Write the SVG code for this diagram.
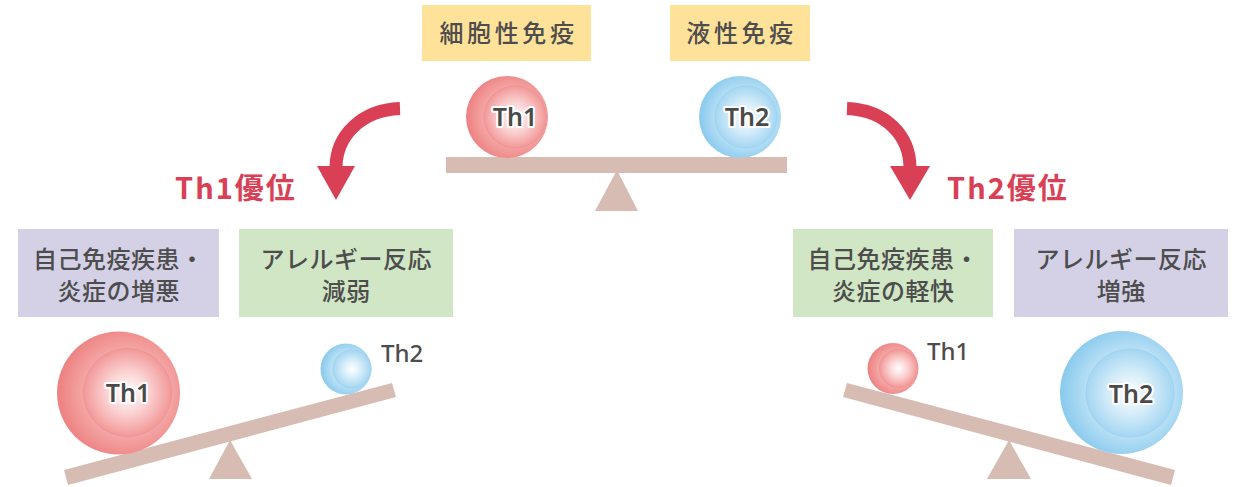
<svg xmlns="http://www.w3.org/2000/svg" width="1245" height="487" viewBox="0 0 1245 487">
<style>
.box{font-family:"Noto Sans CJK JP","Noto Sans",sans-serif;font-size:24px;font-weight:500;fill:#4d4d4d;text-anchor:middle}
.lbl{font-family:"Noto Sans","Noto Sans CJK JP",sans-serif;font-size:24px;font-weight:500;fill:#4d4d4d}
.in{font-family:"Noto Sans","Noto Sans CJK JP",sans-serif;font-size:25px;font-weight:600;fill:#4a4a4a;stroke:#fff;stroke-width:4;stroke-linejoin:round;paint-order:stroke;text-anchor:middle}
.dom{font-family:"Noto Sans CJK JP","Noto Sans",sans-serif;font-size:29px;font-weight:700;fill:#d93f55;letter-spacing:2px}
.beam{fill:#d6bcb2}
.arrow{fill:none;stroke:#d93f55;stroke-width:13}
.head{fill:#d93f55}
</style>
<defs>
<radialGradient id="rOut" cx="0.57" cy="0.5" r="0.55">
<stop offset="0" stop-color="#fad3d3"/><stop offset="0.6" stop-color="#f5aaaa"/><stop offset="1" stop-color="#ee8383"/>
</radialGradient>
<radialGradient id="rIn" cx="0.5" cy="0.5" r="0.5">
<stop offset="0" stop-color="#ffffff"/><stop offset="0.5" stop-color="#fbd0d0"/><stop offset="1" stop-color="#f29898"/>
</radialGradient>
<radialGradient id="bOut" cx="0.57" cy="0.5" r="0.55">
<stop offset="0" stop-color="#d6eefa"/><stop offset="0.6" stop-color="#bde2f6"/><stop offset="1" stop-color="#8ccbee"/>
</radialGradient>
<radialGradient id="bIn" cx="0.5" cy="0.5" r="0.5">
<stop offset="0" stop-color="#ffffff"/><stop offset="0.5" stop-color="#d4ecf9"/><stop offset="1" stop-color="#a4d6f2"/>
</radialGradient>
</defs>

<g id="connectors">
<path class="arrow" d="M400,108.5 C362,110 336,135 336,168"/>
<polygon class="head" points="317,166 355,166 336,200"/>
<path class="arrow" d="M847,108.5 C885,110 910,135 910,168"/>
<polygon class="head" points="890,166 930,166 910,200"/>
</g>

<g id="label-cell">
<rect x="422" y="5" width="169" height="56" fill="#fee29a"/>
<text class="box" x="508.5" y="42" letter-spacing="3.6">細胞性免疫</text>
</g>
<g id="label-humoral">
<rect x="670" y="5" width="140" height="56" fill="#fee29a"/>
<text class="box" x="741.5" y="42" letter-spacing="3.6">液性免疫</text>
</g>

<g id="seesaw-top">
<polygon class="beam" points="617,170 638,211 595,211"/>
<rect class="beam" x="446" y="157" width="341" height="16"/>
<g id="th1-top">
<circle cx="507" cy="117" r="41" fill="url(#rOut)"/>
<circle cx="515" cy="117" r="31" fill="url(#rIn)" stroke="#f09494" stroke-width="1"/>
<text class="in" x="515" y="126">Th1</text>
</g>
<g id="th2-top">
<circle cx="740" cy="117" r="41" fill="url(#bOut)"/>
<circle cx="746" cy="117" r="31" fill="url(#bIn)" stroke="#9fd3f0" stroke-width="1"/>
<text class="in" x="747" y="126">Th2</text>
</g>
</g>

<g id="th1-dominant">
<text class="dom" x="175" y="199">Th1優位</text>
</g>
<g id="th2-dominant">
<text class="dom" x="947" y="199">Th2優位</text>
</g>

<g id="left-box-auto">
<rect x="18" y="229" width="201" height="88" fill="#d4d1e7"/>
<text class="box" x="118.7" y="268" letter-spacing="0.5">自己免疫疾患・</text>
<text class="box" x="118.7" y="300" letter-spacing="0.5">炎症の増悪</text>
</g>
<g id="left-box-allergy">
<rect x="239" y="229" width="214" height="88" fill="#d0e6c4"/>
<text class="box" x="346.2" y="268" letter-spacing="0.5">アレルギー反応</text>
<text class="box" x="346.2" y="300" letter-spacing="0.5">減弱</text>
</g>

<g id="seesaw-left">
<polygon class="beam" points="230,440 252,479 209,479"/>
<polygon class="beam" points="64,470 392,383 396,397 68,485"/>
<g id="th1-left">
<circle cx="118.5" cy="393" r="61.5" fill="url(#rOut)"/>
<circle cx="127.5" cy="392.5" r="44" fill="url(#rIn)" stroke="#f09494" stroke-width="1"/>
<text class="in" x="128" y="402">Th1</text>
</g>
<g id="th2-left">
<circle cx="346" cy="369" r="25.5" fill="url(#bOut)"/>
<circle cx="352" cy="369" r="19" fill="url(#bIn)" stroke="#9fd3f0" stroke-width="1"/>
<text class="lbl" x="381" y="362">Th2</text>
</g>
</g>

<g id="right-box-auto">
<rect x="793" y="229" width="200" height="88" fill="#d0e6c4"/>
<text class="box" x="893.2" y="268" letter-spacing="0.5">自己免疫疾患・</text>
<text class="box" x="893.2" y="300" letter-spacing="0.5">炎症の軽快</text>
</g>
<g id="right-box-allergy">
<rect x="1014" y="229" width="214" height="88" fill="#d4d1e7"/>
<text class="box" x="1121.2" y="268" letter-spacing="0.5">アレルギー反応</text>
<text class="box" x="1121.2" y="300" letter-spacing="0.5">増強</text>
</g>

<g id="seesaw-right">
<polygon class="beam" points="1009,440 1031,479 987,479"/>
<polygon class="beam" points="847,383 1175,470 1171,485 843,397"/>
<g id="th1-right">
<circle cx="893" cy="368.5" r="25.5" fill="url(#rOut)"/>
<circle cx="898.5" cy="368.5" r="19" fill="url(#rIn)" stroke="#f09494" stroke-width="1"/>
<text class="lbl" x="927" y="360">Th1</text>
</g>
<g id="th2-right">
<circle cx="1121.5" cy="392.5" r="61.5" fill="url(#bOut)"/>
<circle cx="1130" cy="393" r="44" fill="url(#bIn)" stroke="#9fd3f0" stroke-width="1"/>
<text class="in" x="1131" y="403">Th2</text>
</g>
</g>
</svg>
